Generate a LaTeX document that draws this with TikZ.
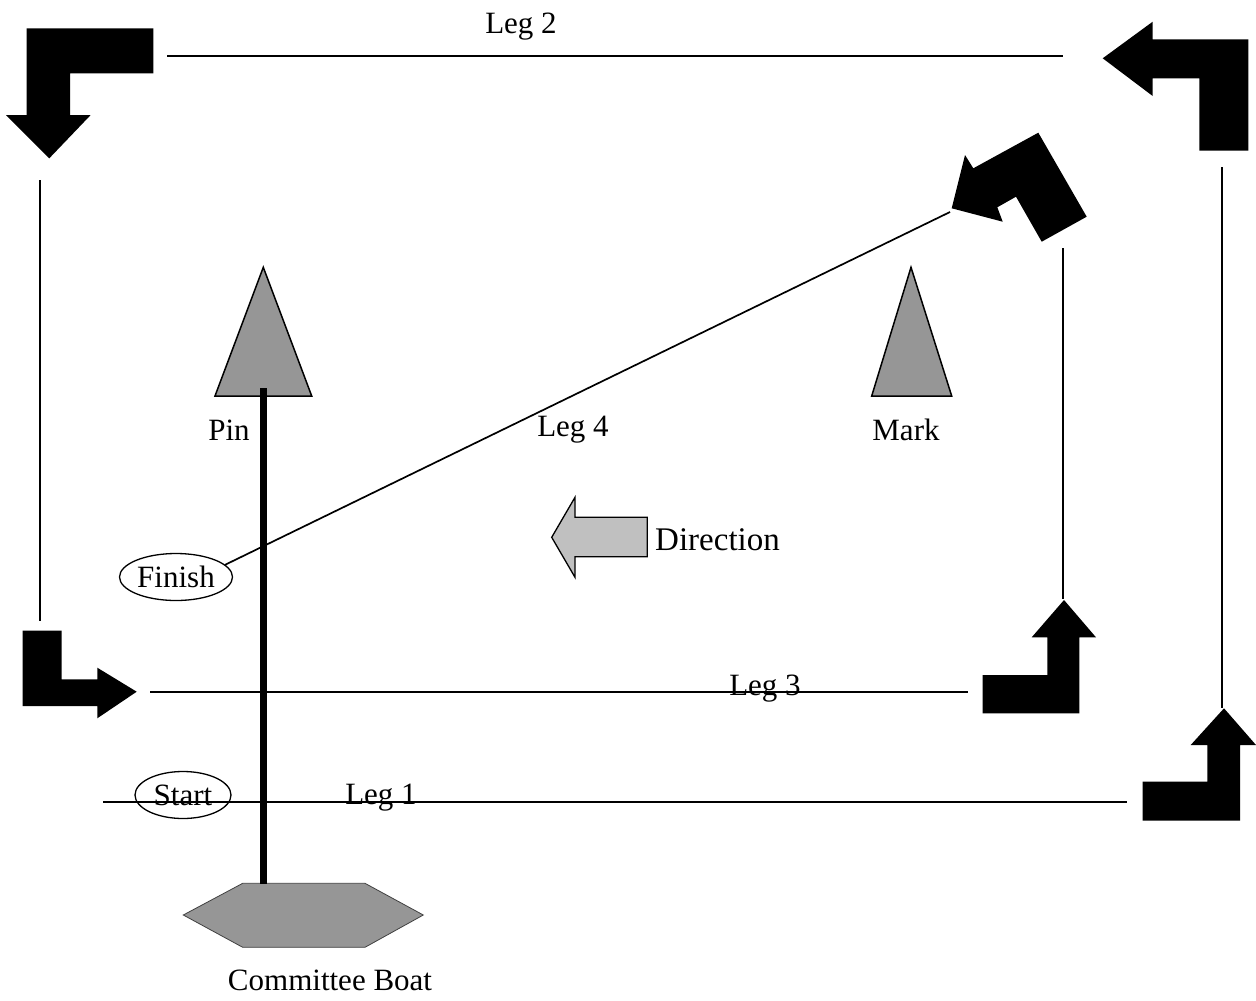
\documentclass[tikz,border=0pt]{standalone}
\usepackage{fontspec}
\setmainfont{Liberation Serif}
\usetikzlibrary{shapes.geometric}
\begin{document}
\begin{tikzpicture}[x=1pt,y=-1pt,
  lbl/.style={font=\fontsize{31}{36}\selectfont, inner sep=0pt},
  leg/.style={line width=1.7pt},
  bigarrow/.style={fill=black, draw=none},
  buoy/.style={fill=buoygray, draw=black, line width=1.5pt, line join=miter},
  oval/.style={draw=black, line width=1.3pt, ellipse, minimum width=#1, minimum height=47pt, inner sep=0pt, font=\fontsize{31}{36}\selectfont}
]
\definecolor{buoygray}{RGB}{150,150,150}
\definecolor{dirgray}{RGB}{192,192,192}
\useasboundingbox (0,0) rectangle (1256,1001);
\fill[white] (0,0) rectangle (1256,1001);

% corner arrows
\fill[bigarrow] (26.7,28.3) -- (153.3,28.3) -- (153.3,73.3) -- (70,73.3) -- (70,115) -- (90.7,115) -- (49.3,158.3) -- (6,115) -- (26.7,115) -- cycle;
\fill[bigarrow] (1102.7,58.3) -- (1152.7,21.7) -- (1152.7,39.3) -- (1248.3,39.3) -- (1248.3,150.7) -- (1199.3,150.7) -- (1199.3,78.3) -- (1152.7,78.3) -- (1152.7,96) -- cycle;
\fill[bigarrow] (1038.3,132.7) -- (1086.7,216.7) -- (1041.7,241.7) -- (1016,196.7) -- (997.3,207.3) -- (1002.7,221.7) -- (951.7,208.3) -- (965,155) -- (973.3,168.3) -- cycle;
\fill[bigarrow] (22.7,630.7) -- (61.7,630.7) -- (61.7,679.3) -- (97.3,679.3) -- (97.3,667.7) -- (136.7,691.7) -- (97.3,718.3) -- (97.3,706) -- (22.7,706) -- cycle;
\fill[bigarrow] (1064,600) -- (1096,637.3) -- (1079.3,637.3) -- (1079.3,713.3) -- (982.7,713.3) -- (982.7,675) -- (1047.3,675) -- (1047.3,637.3) -- (1031.7,637.3) -- cycle;
\fill[bigarrow] (1224,708.3) -- (1256,745) -- (1240,745) -- (1240,820.7) -- (1142.7,820.7) -- (1142.7,781.7) -- (1207.3,781.7) -- (1207.3,745) -- (1190.7,745) -- cycle;

% coordinates for leg lines
\coordinate (l2a) at (167,56);
\coordinate (l2b) at (1063,56);
\coordinate (lva) at (40,180);
\coordinate (lvb) at (40,621);
\coordinate (rv1a) at (1063,248);
\coordinate (rv1b) at (1063,599);
\coordinate (rv2a) at (1222,167);
\coordinate (rv2b) at (1222,708);
\coordinate (l3a) at (150,692);
\coordinate (l3b) at (968,692);
\coordinate (l1a) at (103,802);
\coordinate (l1b) at (1127,802);
\coordinate (rtip) at (950,212);

\draw[leg] (l2a) -- (l2b);
\draw[leg] (lva) -- (lvb);
\draw[leg] (rv1a) -- (rv1b);
\draw[leg] (rv2a) -- (rv2b);
\draw[leg] (l3a) -- (l3b);
\draw[leg] (l1a) -- (l1b);

% ovals
\node[oval=113pt] (finish) at (176,577) {Finish};
\node[oval=96pt] (start) at (183,795) {Start};
\draw[leg] (finish.14) -- (rtip);

% buoys
\draw[buoy] (263.3,267.3) -- (311.7,396) -- (215,396) -- cycle;
\draw[buoy] (911,267.3) -- (951.7,396) -- (871.7,396) -- cycle;

% committee boat
\draw[fill=buoygray, draw=black!75, line width=0.8pt] (183.3,915) -- (242.7,883.3) -- (365,883.3) -- (423.3,915) -- (365,947.3) -- (242.7,947.3) -- cycle;
\coordinate (boattop) at (263.3,884);
\coordinate (pinbase) at (263.3,388);
\draw[line width=7pt] (pinbase) -- (boattop);

% direction arrow
\draw[fill=dirgray, draw=black, line width=1.3pt] (551.7,537.3) -- (575,497.3) -- (575,517.3) -- (647.3,517.3) -- (647.3,556.7) -- (575,556.7) -- (575,577.3) -- cycle;

% labels
\node[lbl] (leg2) at (521,27) {Leg 2};
\node[lbl] (leg4) at (573,430) {Leg 4};
\node[lbl] (leg3) at (765,689) {Leg 3};
\node[lbl] (leg1) at (381,798) {Leg 1};
\node[lbl] (pin) at (229,430) {Pin};
\node[lbl] (mark) at (906,430) {Mark};
\node[lbl, anchor=west, font=\fontsize{33}{38}\selectfont] (dir) at (655,540) {Direction};
\node[lbl] (boat) at (330,980) {Committee Boat};
\end{tikzpicture}
\end{document}
